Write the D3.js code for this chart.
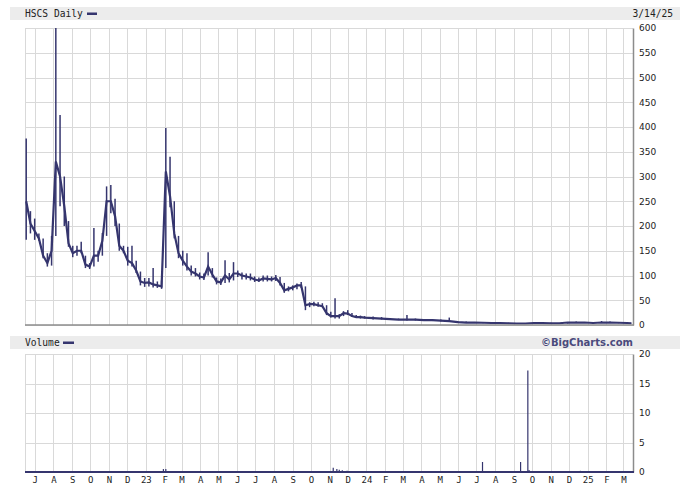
<html>
<head>
  <meta charset='utf-8' />
  <style>
    body { margin: 0; padding: 0; background: #fff; }
    .mono { font-family: 'DejaVu Sans Mono', monospace; font-size: 9.6px; fill: #222; }
    .ylab { font-family: 'DejaVu Sans', Verdana, sans-serif; font-size: 9px; fill: #222; }
  </style>
</head>
<body>
  <svg width='680' height='487'></svg>

<script src="https://cdnjs.cloudflare.com/ajax/libs/d3/7.8.5/d3.min.js"></script>
<script>
///////////////////
/// Data
///////////////////

// weekly price bars (2022-2023), then every two weeks
dates = ['2022-06-17','2022-06-24','2022-07-01','2022-07-08','2022-07-15','2022-07-22','2022-07-29',
  '2022-08-05','2022-08-12','2022-08-19','2022-08-26','2022-09-02','2022-09-09','2022-09-16','2022-09-23',
  '2022-09-30','2022-10-07','2022-10-14','2022-10-21','2022-10-28','2022-11-04','2022-11-11','2022-11-18',
  '2022-11-25','2022-12-02','2022-12-09','2022-12-16','2022-12-23','2022-12-30','2023-01-06','2023-01-13',
  '2023-01-20','2023-01-27','2023-02-03','2023-02-10','2023-02-17','2023-02-24','2023-03-03','2023-03-10',
  '2023-03-17','2023-03-24','2023-03-31','2023-04-07','2023-04-14','2023-04-21','2023-04-28','2023-05-05',
  '2023-05-12','2023-05-19','2023-05-26','2023-06-02','2023-06-09','2023-06-16','2023-06-23','2023-06-30',
  '2023-07-07','2023-07-14','2023-07-21','2023-07-28','2023-08-04','2023-08-11','2023-08-18','2023-08-25',
  '2023-09-01','2023-09-08','2023-09-15','2023-09-22','2023-09-29','2023-10-06','2023-10-13','2023-10-20',
  '2023-10-27','2023-11-03','2023-11-10','2023-11-17','2023-11-24','2023-12-01','2023-12-08','2023-12-15',
  '2023-12-22','2023-12-29','2024-01-12','2024-01-26','2024-02-09','2024-02-23','2024-03-08','2024-03-22',
  '2024-04-05','2024-04-19','2024-05-03','2024-05-17','2024-05-31','2024-06-14','2024-06-28','2024-07-12',
  '2024-07-26','2024-08-09','2024-08-23','2024-09-06','2024-09-20','2024-10-04','2024-10-18','2024-11-01',
  '2024-11-15','2024-11-29','2024-12-13','2024-12-27','2025-01-10','2025-01-24','2025-02-07','2025-02-21',
  '2025-03-07','2025-03-14'];

highs = [377,230,215,185,175,145,180, 600,424,300,210,160,160,168,140,
  125,196,150,186,280,283,255,205, 160,158,160,130,108,95,95,115,
  88,90,398,340,250,180,150,145, 120,115,106,104,147,115,96,94,
  131,105,127,110,106,104,104,98, 96,100,100,98,101,97,85,78,
  80,84,87,78,46,47,46,44, 40,27,54,22,28,30,24,20,
  19,18,17,16,14,13,20,13, 12,12,11,15,8,7,6,6,
  5,5,4.5,4,4,6,5,4.5, 4,6,7,6,5,8,7,6,
  5,4.5];

lows = [172,185,172,170,135,118,120, 180,240,200,158,137,140,145,115,
  113,118,128,140,180,226,200,150, 145,120,118,105,80,77,78,76,
  75,73,115,238,175,135,120,110, 100,98,92,91,100,96,82,81,
  85,86,90,97,92,92,90,87, 87,88,88,88,89,80,65,68,
  70,72,75,30,36,38,37,36, 20,15,13,13,18,20,16,14,
  13,13,11,11,10,10,9,9, 8,8,7,7,5,4,4,3.5,
  3,3,3,2.5,2,2.5,3,3, 3,3,4,4,3.5,4,4,3.5,
  3,3];

closes = [250,205,190,175,140,125,150, 330,300,240,165,145,150,150,122,
  118,140,140,170,250,250,220,160, 150,130,125,110,88,85,86,82,
  80,78,310,260,185,145,130,118, 108,104,98,96,118,102,88,86,
  100,92,104,104,100,98,96,92, 90,94,93,92,95,85,70,73,
  76,80,80,40,42,42,40,38, 24,18,18,18,24,23,18,16,
  16,15,14,13,12,11,11,11, 10,10,9,8,6,5,5,4.5,
  4,4,3.5,3,3,4,4,3.5, 3.5,5,5,5,4,5,5,4.5,
  4,3.5];

// volume in millions, only days that show above the base line
volDates = ['2023-01-30','2023-02-03','2023-11-07','2023-11-13','2023-11-17','2023-11-22','2023-11-30',
  '2024-01-08','2024-05-17','2024-07-11','2024-09-12','2024-09-24','2024-09-26','2024-12-20'];
volValues = [0.5,0.5,0.7,0.5,0.4,0.3,0.2, 0.15,0.15,1.7,1.7,17.2,0.35,0.2];

monthTicks = ['2022-07-01','2022-08-01','2022-09-01','2022-10-01','2022-11-01','2022-12-01','2023-01-01',
  '2023-02-01','2023-03-01','2023-04-01','2023-05-01','2023-06-01','2023-07-01','2023-08-01','2023-09-01',
  '2023-10-01','2023-11-01','2023-12-01','2024-01-01','2024-02-01','2024-03-01','2024-04-01','2024-05-01',
  '2024-06-01','2024-07-01','2024-08-01','2024-09-01','2024-10-01','2024-11-01','2024-12-01','2025-01-01',
  '2025-02-01','2025-03-01'];
monthLabels = ['J','A','S','O','N','D','23','F','M','A','M','J','J','A','S','O','N','D','24',
  'F','M','A','M','J','J','A','S','O','N','D','25','F','M'];

priceTicks = [0,50,100,150,200,250,300,350,400,450,500,550,600];
volTicks = [0,5,10,15,20];

////////////////////
/// Scales
////////////////////

parse = d3.timeParse('%Y-%m-%d');
navy = '#35356e';
gridCol = '#d9d9d9';

svg = d3.select('svg');

x = d3.scaleTime()
  .domain([parse('2022-06-15'), parse('2025-03-17')])
  .range([25, 633]);

yP = d3.scaleLinear().domain([0, 600]).range([325, 28]);
yV = d3.scaleLinear().domain([0, 20]).range([472, 354]);

// header bands
svg.append('rect').attr('x', 10).attr('y', 7).attr('width', 670).attr('height', 13).attr('fill', '#ececec');
svg.append('rect').attr('x', 10).attr('y', 336).attr('width', 670).attr('height', 13).attr('fill', '#ececec');

svg.append('text').attr('class', 'mono').attr('x', 25).attr('y', 17).text('HSCS Daily');
svg.append('rect').attr('x', 87).attr('y', 12.5).attr('width', 10).attr('height', 2.5).attr('fill', navy);
svg.append('text').attr('class', 'mono').attr('x', 673).attr('y', 17).attr('text-anchor', 'end').text('3/14/25');

svg.append('text').attr('class', 'mono').attr('x', 25).attr('y', 346).text('Volume');
svg.append('rect').attr('x', 63).attr('y', 341.5).attr('width', 11).attr('height', 2.5).attr('fill', navy);
svg.append('text').attr('x', 633).attr('y', 346).attr('text-anchor', 'end')
  .style('font', 'bold 10px "DejaVu Sans", Verdana, sans-serif').attr('fill', '#4a4a7c')
  .text('\u00a9BigCharts.com');

////////////////////
/// Grids
////////////////////

function grid(g, yScale, ticks) {
  g.selectAll('.hg').data(ticks).enter().append('line')
    .attr('x1', 25).attr('x2', 633)
    .attr('y1', d => Math.round(yScale(d)) + 0.5).attr('y2', d => Math.round(yScale(d)) + 0.5)
    .attr('stroke', gridCol);
  g.selectAll('.vg').data(monthTicks).enter().append('line')
    .attr('x1', d => Math.round(x(parse(d))) + 0.5).attr('x2', d => Math.round(x(parse(d))) + 0.5)
    .attr('y1', yScale.range()[1]).attr('y2', yScale.range()[0])
    .attr('stroke', gridCol);
  g.append('line').attr('x1', 25.5).attr('x2', 25.5)
    .attr('y1', yScale.range()[1]).attr('y2', yScale.range()[0]).attr('stroke', gridCol);
}

priceG = svg.append('g');
grid(priceG, yP, priceTicks);
volG = svg.append('g');
grid(volG, yV, volTicks);

////////////////////
/// Price bars and close line
////////////////////

priceData = dates.map((d, i) => ({ date: parse(d), h: highs[i], l: lows[i], c: closes[i] }));

priceG.selectAll('.bar').data(priceData).enter().append('line')
  .attr('x1', d => x(d.date)).attr('x2', d => x(d.date))
  .attr('y1', d => yP(d.h)).attr('y2', d => yP(d.l))
  .attr('stroke', navy).attr('stroke-width', 1.5);

priceG.append('path').datum(priceData)
  .attr('fill', 'none').attr('stroke', navy).attr('stroke-width', 2.2)
  .attr('d', d3.line().x(d => x(d.date)).y(d => yP(d.c)));

////////////////////
/// Volume
////////////////////

volData = volDates.map((d, i) => ({ date: parse(d), v: volValues[i] }));

volG.selectAll('.vbar').data(volData).enter().append('line')
  .attr('x1', d => x(d.date)).attr('x2', d => x(d.date))
  .attr('y1', d => yV(d.v)).attr('y2', yV(0))
  .attr('stroke', navy).attr('stroke-width', 1.2);

////////////////////
/// Axes
////////////////////

priceAxis = d3.axisRight(yP).tickValues(priceTicks).tickSize(0).tickPadding(6);
svg.append('g').attr('transform', 'translate(633,0)').call(priceAxis)
  .call(g => g.select('.domain').attr('stroke', '#8c8c8c').attr('stroke-width', 1.5))
  .call(g => g.selectAll('text').attr('class', 'ylab').attr('fill', '#222'));

svg.append('line').attr('x1', 25).attr('x2', 634).attr('y1', 325).attr('y2', 325)
  .attr('stroke', '#8c8c8c').attr('stroke-width', 1.5);

volAxis = d3.axisRight(yV).tickValues(volTicks).tickSize(0).tickPadding(6);
svg.append('g').attr('transform', 'translate(633,0)').call(volAxis)
  .call(g => g.select('.domain').attr('stroke', '#8c8c8c').attr('stroke-width', 1.5))
  .call(g => g.selectAll('text').attr('class', 'ylab').attr('fill', '#222'));

svg.append('line').attr('x1', 25).attr('x2', 634).attr('y1', 472).attr('y2', 472)
  .attr('stroke', navy).attr('stroke-width', 2);

xAxis = d3.axisBottom(x)
  .tickValues(monthTicks.map(parse))
  .tickFormat((d, i) => monthLabels[i])
  .tickSize(0).tickPadding(4);

svg.append('g').attr('transform', 'translate(0,473)').call(xAxis)
  .call(g => g.select('.domain').remove())
  .call(g => g.selectAll('text').attr('class', 'mono').style('font-size', '9px'));

</script>
</body>
</html>
